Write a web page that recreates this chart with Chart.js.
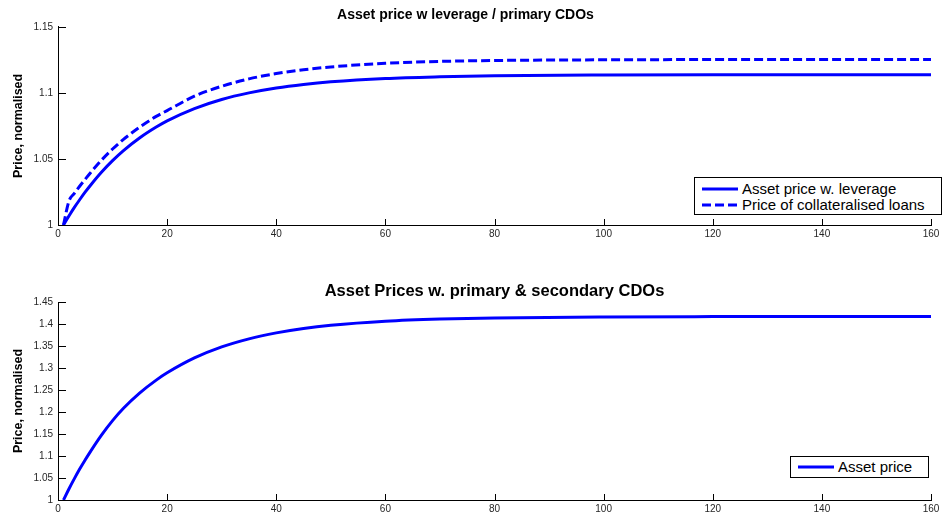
<!DOCTYPE html>
<html>
<head>
<meta charset="utf-8">
<script src="https://cdn.jsdelivr.net/npm/chart.js@4.4.0/dist/chart.umd.min.js"></script>
<style>
  body { margin: 0; background: #fff; width: 945px; height: 515px; position: relative; overflow: hidden;
         font-family: 'Liberation Sans', Arial, sans-serif; }
  canvas { position: absolute; left: 0; }
  #topChart { top: 0; }
  #bottomChart { top: 258px; }
  .legend { position: absolute; box-sizing: border-box; border: 1px solid #000; background: #fff;
            font-size: 15px; color: #000; }
  .legend .row { position: absolute; left: 0; height: 16px; line-height: 16px; white-space: nowrap; }
  .legend svg { position: absolute; left: 7px; top: 0; }
  .legend span { position: absolute; left: 47px; top: 0; }
</style>
</head>
<body>
<canvas id="topChart" width="945" height="258"></canvas>
<canvas id="bottomChart" width="945" height="257"></canvas>

<div class="legend" style="left:694px; top:177px; width:248px; height:38px;">
  <div class="row" style="top:3px;">
    <svg width="36" height="16"><line x1="0" y1="8" x2="36" y2="8" stroke="#0000ff" stroke-width="3"/></svg>
    <span>Asset price w. leverage</span>
  </div>
  <div class="row" style="top:19px;">
    <svg width="36" height="16"><line x1="0" y1="8" x2="36" y2="8" stroke="#0000ff" stroke-width="3" stroke-dasharray="9 4"/></svg>
    <span>Price of collateralised loans</span>
  </div>
</div>

<div class="legend" style="left:790px; top:456px; width:139px; height:22px;">
  <div class="row" style="top:2px;">
    <svg width="36" height="16"><line x1="0" y1="8" x2="36" y2="8" stroke="#0000ff" stroke-width="3"/></svg>
    <span>Asset price</span>
  </div>
</div>

<script>
// periods (x) and the values
const periods = [1, 2, 3, 4, 5, 6, 8, 10, 12, 15, 18, 20, 25, 30, 35, 40, 45, 50, 60, 70, 80, 100, 120, 140, 160];

const assetLeverage = [1.0, 1.0068, 1.0133, 1.0193, 1.025, 1.0303, 1.0401, 1.0487, 1.0563, 1.066, 1.0741, 1.0788,
  1.0881, 1.095, 1.1, 1.1037, 1.1064, 1.1084, 1.1109, 1.1122, 1.113, 1.1136, 1.1138, 1.1138, 1.1138];

const collateralLoans = [1.0, 1.018, 1.024, 1.0295, 1.0347, 1.0398, 1.0492, 1.0575, 1.0648, 1.0742, 1.0822, 1.0866,
  1.0975, 1.105, 1.1106, 1.1146, 1.1175, 1.1196, 1.1224, 1.1238, 1.1245, 1.125, 1.1252, 1.1252, 1.1252];

const assetCdo = [1.0, 1.0251, 1.0486, 1.0708, 1.0916, 1.1112, 1.148, 1.1805, 1.2085, 1.2435, 1.2725, 1.289,
  1.3228, 1.3479, 1.3663, 1.3798, 1.3898, 1.397, 1.4062, 1.4112, 1.4139, 1.4161, 1.4168, 1.417, 1.417];

const xTicks = [0, 20, 40, 60, 80, 100, 120, 140, 160];
const topYTicks = [1, 1.05, 1.1, 1.15];
const bottomYTicks = [1, 1.05, 1.1, 1.15, 1.2, 1.25, 1.3, 1.35, 1.4, 1.45];

const BLUE = '#0000ff';
const tickFont = { family: "'Liberation Sans', Arial, sans-serif", size: 10 };

function points(vals) {
  return periods.map((t, i) => ({ x: t, y: vals[i] }));
}

// matlab style ticks pointing into the plot
const inwardTicks = {
  id: 'inwardTicks',
  afterDraw(chart) {
    const { ctx, chartArea, scales } = chart;
    ctx.save();
    ctx.strokeStyle = '#000';
    ctx.lineWidth = 1;
    scales.x.ticks.forEach(t => {
      const px = Math.round(scales.x.getPixelForValue(t.value)) + 0.5;
      ctx.beginPath();
      ctx.moveTo(px, chartArea.bottom);
      ctx.lineTo(px, chartArea.bottom - 6);
      ctx.stroke();
    });
    scales.y.ticks.forEach(t => {
      const py = Math.round(scales.y.getPixelForValue(t.value)) + 0.5;
      ctx.beginPath();
      ctx.moveTo(chartArea.left, py);
      ctx.lineTo(chartArea.left + 8, py);
      ctx.stroke();
    });
    ctx.restore();
  }
};

function makeChart(id, datasets, title, titleFont, titlePad, titleFull, yTicks, xHeight) {
  return new Chart(document.getElementById(id), {
    type: 'line',
    data: { datasets: datasets },
    options: {
      responsive: false,
      animation: false,
      layout: { padding: { left: 0, right: 14, top: 0, bottom: 0 } },
      plugins: {
        legend: { display: false },
        tooltip: { enabled: false },
        title: {
          display: true,
          text: title,
          color: '#000',
          fullSize: titleFull,
          font: { family: "'Liberation Sans', Arial, sans-serif", size: titleFont, weight: 'bold' },
          padding: titlePad
        }
      },
      elements: { point: { radius: 0 } },
      scales: {
        x: {
          type: 'linear',
          min: 0,
          max: 160,
          afterBuildTicks: s => { s.ticks = xTicks.map(v => ({ value: v })); },
          afterFit: s => { s.height = xHeight; },
          grid: { display: false, drawTicks: false },
          border: { display: true, color: '#000', width: 1 },
          ticks: { color: '#262626', font: tickFont, padding: 3, maxRotation: 0, callback: v => String(v) }
        },
        y: {
          min: yTicks[0],
          max: yTicks[yTicks.length - 1],
          afterBuildTicks: s => { s.ticks = yTicks.map(v => ({ value: v })); },
          afterFit: s => { s.width = 58; },
          grid: { display: false, drawTicks: false },
          border: { display: true, color: '#000', width: 1 },
          ticks: { color: '#262626', font: tickFont, padding: 5, callback: v => String(+v.toFixed(2)) },
          title: {
            display: true,
            text: 'Price, normalised',
            color: '#000',
            font: { family: "'Liberation Sans', Arial, sans-serif", size: 12.5, weight: 'bold' },
            padding: { top: 11, bottom: 0 }
          }
        }
      }
    },
    plugins: [inwardTicks]
  });
}

makeChart('topChart', [
  { label: 'Asset price w. leverage', data: points(assetLeverage), borderColor: BLUE, borderWidth: 3,
    cubicInterpolationMode: 'monotone', fill: false },
  { label: 'Price of collateralised loans', data: points(collateralLoans), borderColor: BLUE, borderWidth: 3,
    borderDash: [9, 4], cubicInterpolationMode: 'monotone', fill: false }
], 'Asset price w leverage / primary CDOs', 14, { top: 7, bottom: 3 }, true, topYTicks, 33);

makeChart('bottomChart', [
  { label: 'Asset price', data: points(assetCdo), borderColor: BLUE, borderWidth: 3,
    cubicInterpolationMode: 'monotone', fill: false }
], 'Asset Prices w. primary & secondary CDOs', 16.5, { top: 24, bottom: 0.2 }, false, bottomYTicks, 15);
</script>
</body>
</html>
